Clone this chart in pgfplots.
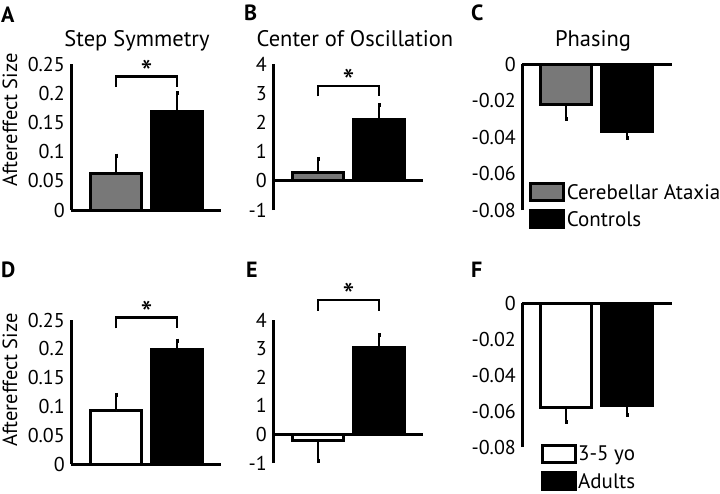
\documentclass[border=0pt]{standalone}
\usepackage{fontspec}
\setmainfont{PT Sans}
\usepackage{pgfplots}
\pgfplotsset{compat=1.18}
\definecolor{bargray}{RGB}{120,120,120}
\newcommand{\tickfont}{\fontsize{20}{21}\selectfont}
\newcommand{\titlefont}{\fontsize{22.5}{24}\selectfont}
\newcommand{\labfont}{\fontsize{20.5}{22}\selectfont}
\newcommand{\legfont}{\fontsize{21}{22}\selectfont}
\newcommand{\letterfont}{\fontsize{22}{24}\selectfont\bfseries}
\tikzset{br/.style={line width=2.8pt}, star/.style={anchor=base, yshift=-8pt, font=\fontsize{34}{34}\selectfont}}
\pgfplotsset{
  panel/.style={
    scale only axis, width=150pt, anchor=south west,
    xmin=0, xmax=150, clip=false,
    axis y line=left, axis x line=middle,
    axis line style={-, line width=3pt},
    hide obscured x ticks=false, hide obscured y ticks=false,
    scaled y ticks=false,
    xtick=\empty, major tick length=0pt,
    yticklabel style={font=\tickfont, inner sep=0pt, anchor=east, xshift=-6pt},
  },
  mybar/.style={ybar, bar width=51, bar shift=0pt, draw=black, line width=3pt,
    legend image code/.code={\draw[##1, line width=3pt] (0pt,-8.5pt) rectangle (33pt,8.5pt);},
    error bars/y explicit,
    error bars/error bar style={line width=2.8pt},
    error bars/error mark options={line width=3pt, mark size=2pt}},
}
\begin{document}
\begin{tikzpicture}
\path[use as bounding box] (0pt,0pt) rectangle (720pt,-493pt);
% ---------- A
\begin{axis}[panel, at={(71pt,-210pt)}, height=146pt, ymin=0, ymax=0.25,
  ytick={0,0.05,0.1,0.15,0.2,0.25}, yticklabels={0,0.05,0.1,0.15,0.2,0.25}]
\addplot[mybar, fill=bargray, error bars/y dir=plus] coordinates {(45,0.063) +- (0,0.030)};
\addplot[mybar, fill=black, error bars/y dir=plus] coordinates {(106,0.168) +- (0,0.032)};
\draw[br] (axis cs:45,0.2106) -- (axis cs:45,0.228) -- (axis cs:106,0.228) -- (axis cs:106,0.2106);
\node[star] at (axis cs:75.5,0.228) {*};
\end{axis}
% ---------- B
\begin{axis}[panel, at={(273pt,-210pt)}, height=146pt, ymin=-1, ymax=4,
  ytick={-1,0,1,2,3,4}, yticklabels={-1,0,1,2,3,4}]
\addplot[mybar, fill=bargray, error bars/y dir=plus] coordinates {(45,0.3) +- (0,0.45)};
\addplot[mybar, fill=black, error bars/y dir=plus] coordinates {(106,2.1) +- (0,0.48)};
\draw[br] (axis cs:45,2.89) -- (axis cs:45,3.25) -- (axis cs:106,3.25) -- (axis cs:106,2.89);
\node[star] at (axis cs:75.5,3.25) {*};
\end{axis}
% ---------- C
\begin{axis}[panel, at={(522pt,-210pt)}, height=146pt, ymin=-0.08, ymax=0,
  ytick={-0.08,-0.06,-0.04,-0.02,0}, yticklabels={-0.08,-0.06,-0.04,-0.02,0},
  legend style={at={(0.047,0.19)}, anchor=north west, draw=none, fill=none,
    inner sep=0pt, row sep=7pt, font=\legfont, nodes={inner sep=1.5pt}},
  legend cell align=left]
\addplot[mybar, fill=bargray, error bars/y dir=minus] coordinates {(44,-0.022) +- (0,0.008)};
\addplot[mybar, fill=black, error bars/y dir=minus] coordinates {(105,-0.037) +- (0,0.0035)};
\legend{Cerebellar Ataxia, Controls}
\end{axis}
% ---------- D
\begin{axis}[panel, at={(71pt,-464pt)}, height=144pt, ymin=0, ymax=0.25,
  ytick={0,0.05,0.1,0.15,0.2,0.25}, yticklabels={0,0.05,0.1,0.15,0.2,0.25}]
\addplot[mybar, fill=white, error bars/y dir=plus] coordinates {(45,0.093) +- (0,0.027)};
\addplot[mybar, fill=black, error bars/y dir=plus] coordinates {(106,0.199) +- (0,0.015)};
\draw[br] (axis cs:45,0.2356) -- (axis cs:45,0.2547) -- (axis cs:106,0.2547) -- (axis cs:106,0.2356);
\node[star] at (axis cs:75.5,0.2547) {*};
\end{axis}
% ---------- E
\begin{axis}[panel, at={(273pt,-463pt)}, height=143pt, ymin=-1, ymax=4,
  ytick={-1,0,1,2,3,4}, yticklabels={-1,0,1,2,3,4}]
\addplot[mybar, fill=white, error bars/y dir=minus] coordinates {(45,-0.2) +- (0,0.73)};
\addplot[mybar, fill=black, error bars/y dir=plus] coordinates {(106,3.03) +- (0,0.44)};
\draw[br] (axis cs:45,4.33) -- (axis cs:45,4.70) -- (axis cs:106,4.70) -- (axis cs:106,4.33);
\node[star] at (axis cs:75.5,4.70) {*};
\end{axis}
% ---------- F
\begin{axis}[panel, at={(522pt,-447pt)}, height=144pt, ymin=-0.08, ymax=0,
  ytick={-0.08,-0.06,-0.04,-0.02,0}, yticklabels={-0.08,-0.06,-0.04,-0.02,0},
  legend style={at={(0.123,0.02)}, anchor=north west, draw=none, fill=none,
    inner sep=0pt, row sep=7pt, font=\legfont, nodes={inner sep=1.5pt}},
  legend cell align=left]
\addplot[mybar, fill=white, error bars/y dir=minus] coordinates {(44,-0.058) +- (0,0.008)};
\addplot[mybar, fill=black, error bars/y dir=minus] coordinates {(105,-0.057) +- (0,0.005)};
\legend{3-5 yo, Adults}
\end{axis}
% ---------- titles, labels, letters
\node[anchor=base, font=\titlefont] at (137pt,-46.7pt) {Step Symmetry};
\node[anchor=base, font=\titlefont] at (355pt,-46.7pt) {Center of Oscillation};
\node[anchor=base, font=\titlefont] at (593pt,-46.7pt) {Phasing};
\node[rotate=90, font=\labfont] at (10pt,-120pt) {Aftereffect Size};
\node[rotate=90, font=\labfont] at (10pt,-380pt) {Aftereffect Size};
\node[anchor=base west, inner sep=0pt, font=\letterfont] at (1pt,-22pt) {A};
\node[anchor=base west, inner sep=0pt, font=\letterfont] at (244pt,-20pt) {B};
\node[anchor=base west, inner sep=0pt, font=\letterfont] at (471pt,-20pt) {C};
\node[anchor=base west, inner sep=0pt, font=\letterfont] at (1pt,-277pt) {D};
\node[anchor=base west, inner sep=0pt, font=\letterfont] at (246pt,-277pt) {E};
\node[anchor=base west, inner sep=0pt, font=\letterfont] at (471pt,-277pt) {F};
\end{tikzpicture}
\end{document}
